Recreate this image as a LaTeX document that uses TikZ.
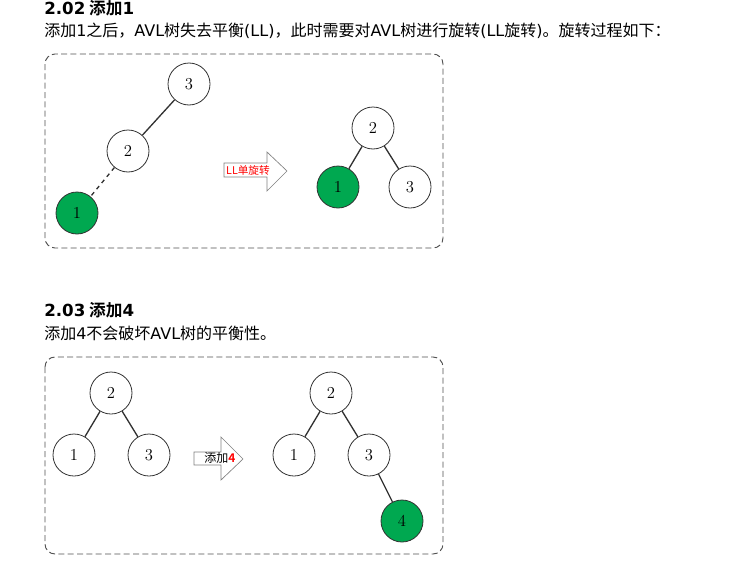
\documentclass[tikz,border=0pt]{standalone}
\usepackage{fontspec}
\newfontfamily\cjk{Noto Sans CJK SC}
\newfontfamily\cjkb{Noto Sans CJK SC Bold}
\newfontfamily\lat{DejaVu Sans}
\newfontfamily\latb{DejaVu Sans Bold}
\newcommand{\lt}[1]{{\lat #1}}
\definecolor{nodegreen}{RGB}{0,168,80}
\definecolor{linegray}{RGB}{50,50,50}
\definecolor{boxgray}{RGB}{80,80,80}
\begin{document}
\begin{tikzpicture}[x=0.75pt,y=-0.75pt,
  circ/.style={circle,draw=linegray,line width=0.6pt,minimum size=31.5pt,inner sep=0pt,font=\fontsize{12.5}{14}\selectfont},
  greennode/.style={circ,fill=nodegreen},
  edge/.style={draw=linegray,line width=1pt},
  frame/.style={draw=boxgray,line width=0.7pt,dash pattern=on 4.5pt off 2.5pt,rounded corners=7.5pt},
  arrowshape/.style={draw=gray,line width=0.5pt,fill=white},
  heading/.style={anchor=west,inner sep=0pt,font=\cjkb\fontsize{12.5}{14}\selectfont},
  bodytext/.style={anchor=west,inner sep=0pt,font=\cjk\fontsize{12}{14}\selectfont}]
\useasboundingbox (0,0) rectangle (742,564);
% texts
\node[heading] (h1) at (44,8) {{\latb 2.02} 添加{\latb 1}};
\node[bodytext] (t1) at (44,31) {添加\lt{1}之后，\lt{AVL}树失去平衡\lt{(LL)}，此时需要对\lt{AVL}树进行旋转\lt{(LL}旋转\lt{)}。旋转过程如下：};
\node[heading] (h2) at (44,310) {{\latb 2.03} 添加{\latb 4}};
\node[bodytext] (t2) at (44,333) {添加\lt{4}不会破坏\lt{AVL}树的平衡性。};
% frames
\draw[frame] (45,54) rectangle (443,248);
\draw[frame] (45,357) rectangle (443,554);
% box 1 left tree
\node[circ] (a3) at (189,84) {3};
\node[circ] (a2) at (128,151) {2};
\node[greennode] (a1) at (77,213) {1};
\draw[edge] (a3) -- (a2);
\draw[edge,dashed] (a2) -- (a1);
% arrow 1
\draw[arrowshape] (224,163) -- (267,163) -- (267,152) -- (287,171) -- (267,191) -- (267,177) -- (224,177) -- cycle;
\node[inner sep=0pt,text=red,font=\cjk\fontsize{8}{9}\selectfont] (ar1) at (248,170) {LL单旋转};
% box 1 right tree
\node[circ] (b2) at (373,128) {2};
\node[greennode] (b1) at (338,187) {1};
\node[circ] (b3) at (410,187) {3};
\draw[edge] (b2) -- (b1);
\draw[edge] (b2) -- (b3);
% box 2 left tree
\node[circ] (c2) at (111,393) {2};
\node[circ] (c1) at (74,455) {1};
\node[circ] (c3) at (149,455) {3};
\draw[edge] (c2) -- (c1);
\draw[edge] (c2) -- (c3);
% arrow 2
\draw[arrowshape] (194,452) -- (221,452) -- (221,437) -- (243,459) -- (221,480) -- (221,465) -- (194,465) -- cycle;
\node[inner sep=0pt,font=\cjk\fontsize{9}{10}\selectfont] (ar2) at (220,458) {添加\textcolor{red}{\cjkb 4}};
% box 2 right tree
\node[circ] (d2) at (331,393) {2};
\node[circ] (d1) at (294,455) {1};
\node[circ] (d3) at (369,455) {3};
\node[greennode] (d4) at (402,521) {4};
\draw[edge] (d2) -- (d1);
\draw[edge] (d2) -- (d3);
\draw[edge] (d3) -- (d4);
\end{tikzpicture}
\end{document}
